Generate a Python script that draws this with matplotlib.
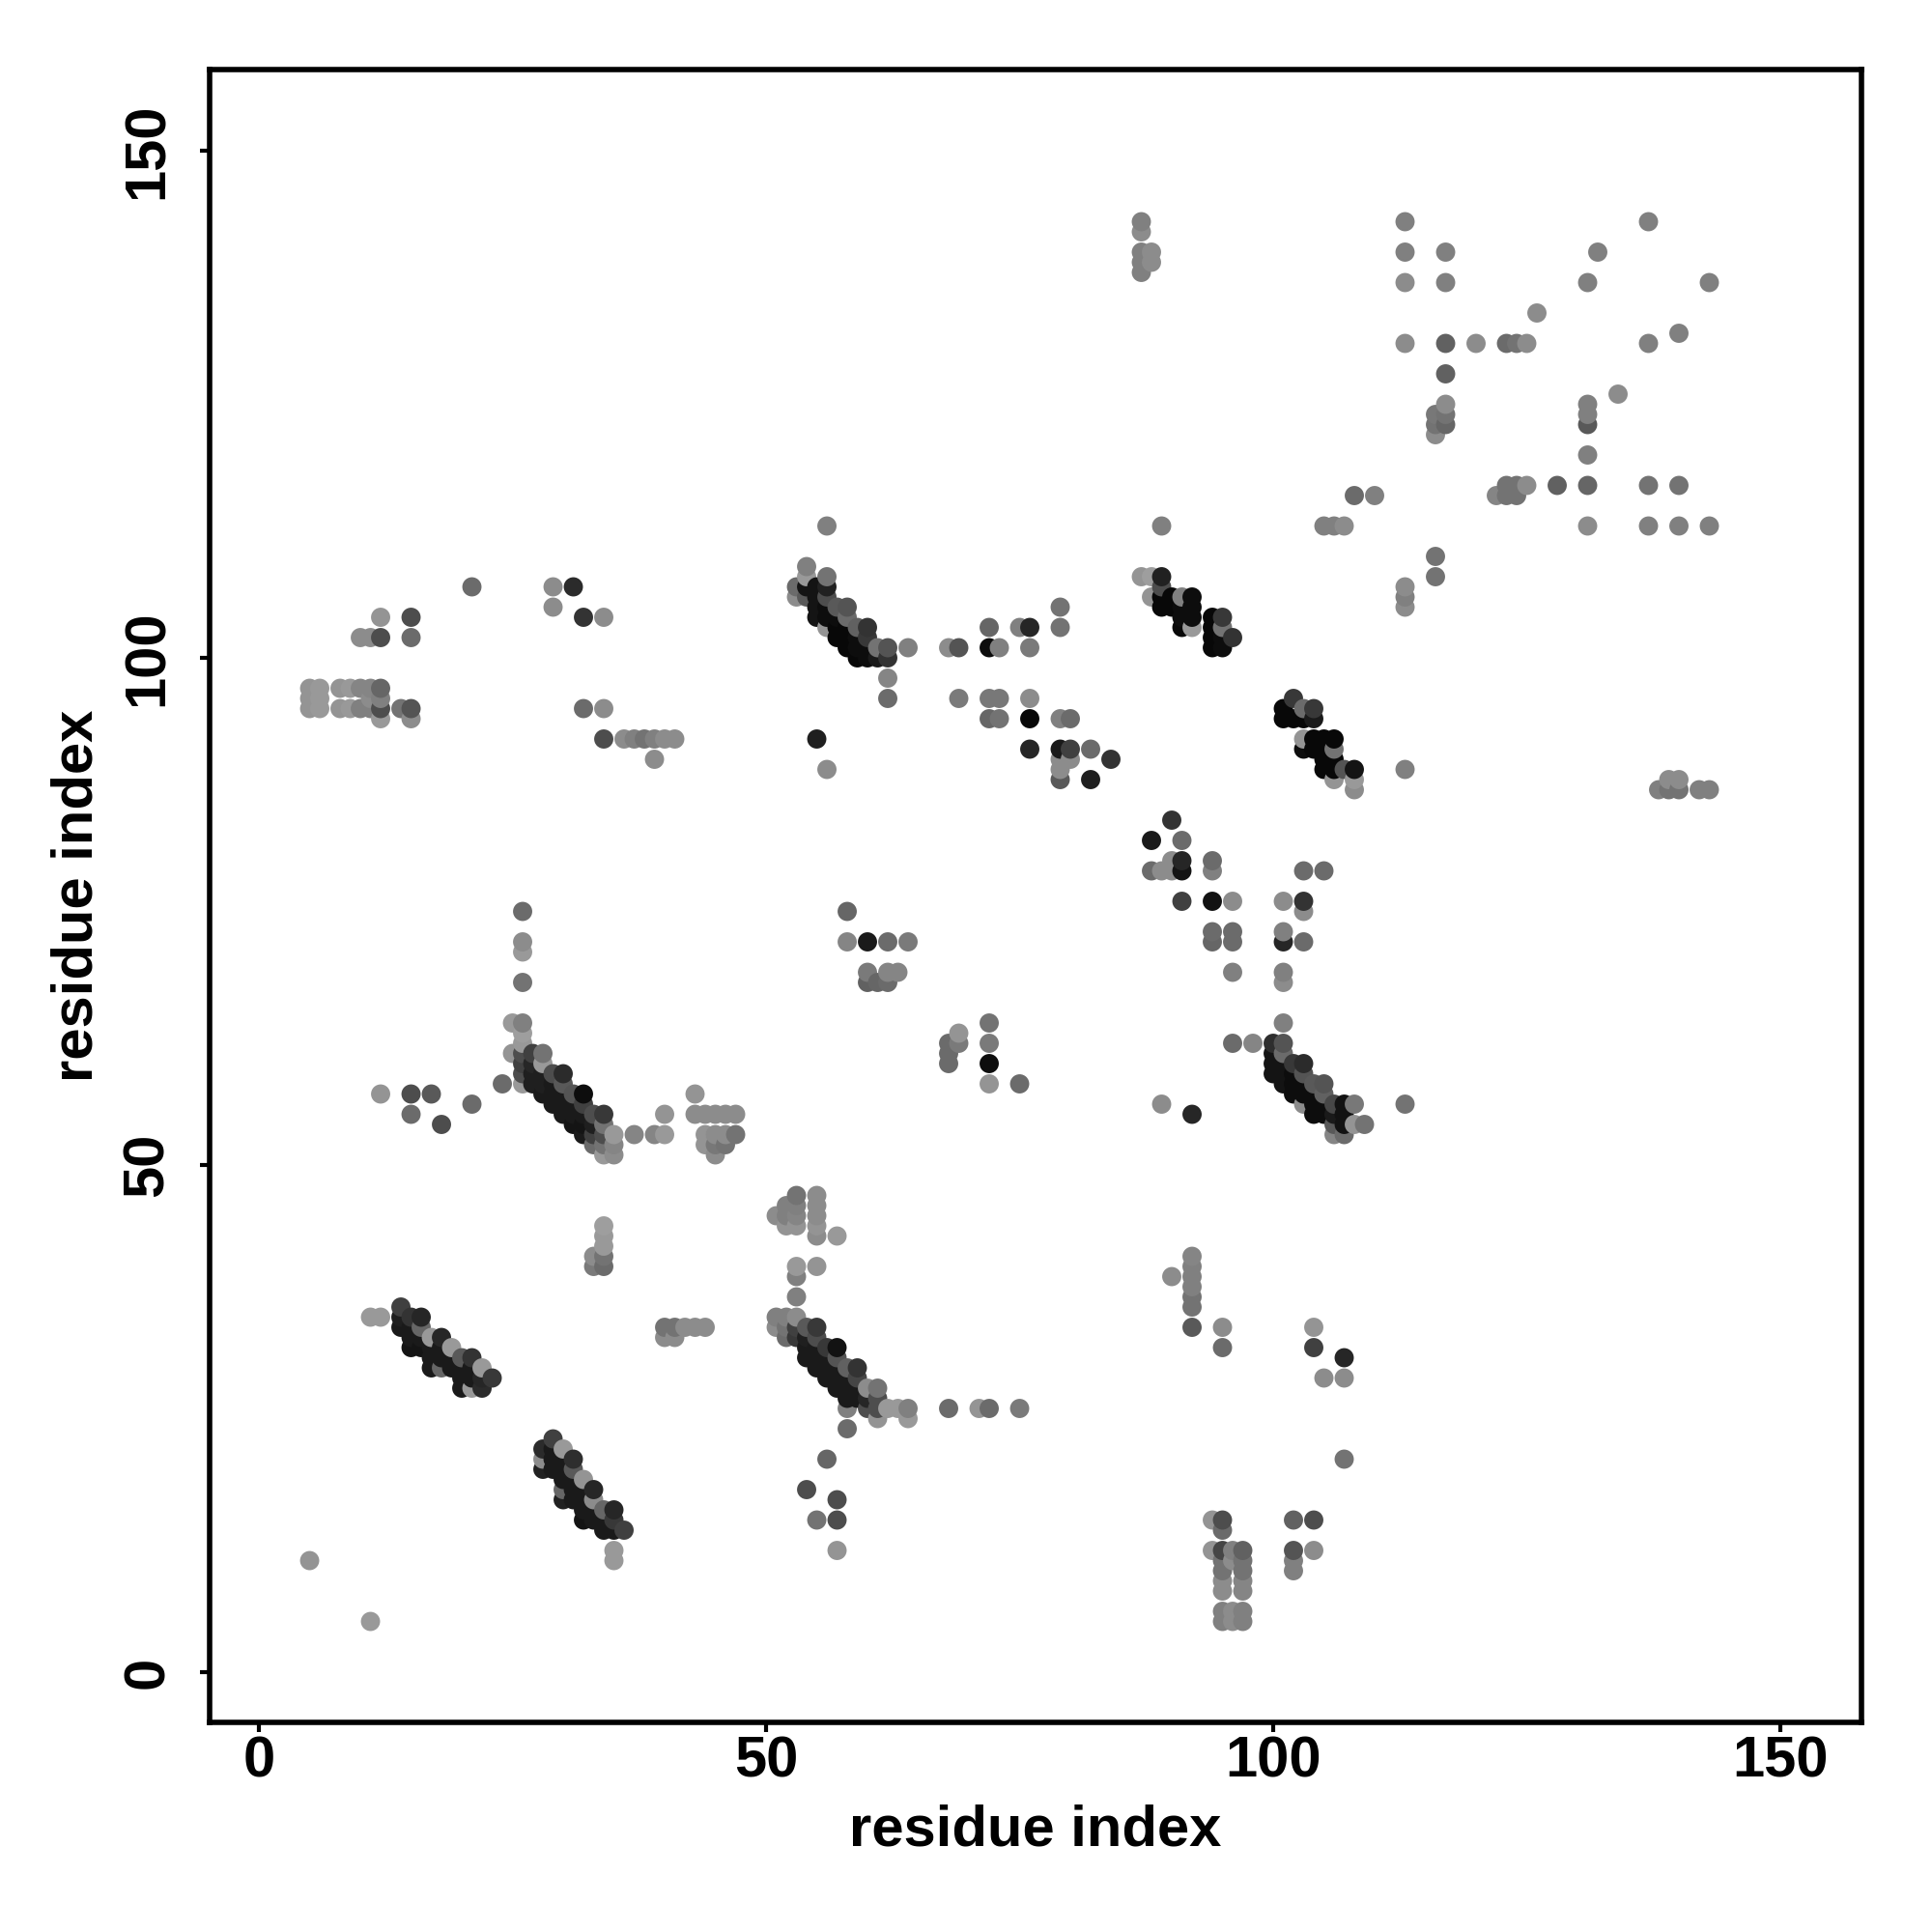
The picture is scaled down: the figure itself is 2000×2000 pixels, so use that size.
import numpy as np
import matplotlib
matplotlib.use("Agg")
import matplotlib.pyplot as plt

# contacts: residue i, residue j, grey level
helix_a_x = [14,14,14, 15,15,15,15, 16,16,16,16, 17,17,17,17, 18,18,18,18, 19,19,19, 20,20,20,20, 21,21,21,21, 22,22,22, 23]
helix_a_y = [36,35,34, 35,34,33,32, 35,34,33,32, 33,32,31,30, 33,32,31,30, 32,31,30, 31,30,29,28, 31,30,29,28, 30,29,28, 29]
helix_a_g = [.25,.12,.1, .2,.1,.1,.08, .15,.4,.1,.08, .6,.1,.1,.1, .15,.1,.1,.4, .6,.1,.1, .35,.1,.1,.1, .2,.1,.1,.6, .6,.15,.17, .22]

helix_b_x = [28,28,28, 29,29,29,29, 30,30,30,30,30,30, 31,31,31,31,31, 32,32,32,32,32, 33,33,33,33, 34,34,34, 35,35,35,35,35, 36]
helix_b_y = [22,21,20, 23,22,21,20, 22,21,20,19,18,17, 21,20,19,18,17, 19,18,17,16,15, 18,17,16,15, 16,15,14, 16,15,14,12,11, 14]
helix_b_g = [.17,.55,.13, .25,.1,.1,.1, .6,.1,.1,.1,.4,.13, .18,.35,.1,.1,.1, .58,.1,.1,.1,.08, .15,.55,.1,.1, .4,.1,.1, .15,.22,.1,.6,.6, .25]

helix_e_x = [25,25, 26,26,26,26,26,26,26,26,26,26,26, 27,27,27,27, 28,28,28,28,28, 29,29,29,29, 30,30,30,30,30, 31,31,31,31, 32,32,32,32,32, 33,33,33,33, 34,34,34,34,34, 35,35,35]
helix_e_y = [64,61, 75,72,71,68,64,63,62,61,60,59,58, 61,60,59,58, 61,60,59,58,57, 59,58,57,56, 59,58,57,56,55, 57,56,55,54, 57,56,55,54,53, 55,54,53,52, 55,54,53,52,51, 53,52,51]
helix_e_g = [.6,.58, .42,.55,.6,.45,.5,.62,.6,.3,.25,.3,.6, .25,.15,.12,.12, .45,.6,.12,.12,.1, .3,.1,.1,.1, .17,.35,.1,.1,.1, .33,.1,.1,.08, .05,.25,.1,.08,.1, .3,.12,.25,.42, .22,.45,.3,.45,.6, .6,.52,.55]

helix_g_x = [51,51, 52,52,52, 53,53,53, 54,54,54,54, 55,55,55,55,55, 56,56,56,56, 57,57,57,57,57, 58,58,58,58,58,58, 59,59,59,59, 60,60,60, 61,61,61,61, 62, 63, 64,64]
helix_g_y = [35,34, 35,34,33, 35,34,33, 34,33,32,31, 34,33,32,31,30, 32,31,30,29, 32,31,30,29,28, 30,29,28,27,26,24, 30,29,28,27, 28,27,26, 28,27,26,25, 26, 26, 26,25]
helix_g_g = [.5,.55, .5,.45,.42, .55,.25,.22, .35,.12,.1,.1, .22,.3,.1,.1,.1, .22,.1,.1,.1, .07,.33,.1,.1,.1, .38,.1,.1,.1,.5,.42, .2,.27,.1,.1, .55,.15,.3, .45,.3,.3,.58, .6, .6, .5,.6]

helix_h_x = [100,100,100,100, 101,101,101,101,101,101,101,101,101,101,101, 102,102,102,102, 103,103,103,103,103, 104,104,104,104, 105,105,105,105, 106,106,106,106, 107,107,107,107, 108,108, 109]
helix_h_y = [62,61,60,59, 76,73,72,69,68,64,62,61,60,59,58, 60,59,58,57, 60,59,58,57,56, 58,57,56,55, 58,57,56,55, 56,55,54,53, 56,55,54,53, 56,54, 54]
helix_h_g = [.18,.08,.08,.08, .55,.5,.15,.5,.55,.5,.33,.42,.08,.08,.08, .22,.05,.05,.05, .17,.33,.05,.05,.55, .35,.05,.05,.05, .33,.38,.05,.05, .28,.1,.35,.52, .07,.07,.07,.42, .47,.58, .45]

helix_j_x = [53,53, 54,54,54,54, 55,55,55,55, 56,56,56,56,56,56, 57,57,57,57, 58,58,58,58,58, 59,59,59,59, 60,60,60,60, 61,61, 62,62,62,62]
helix_j_y = [107,106, 109,108,107,106, 107,106,105,104, 108,107,106,105,104,103, 105,104,103,102, 105,104,103,102,101, 103,102,101,100, 103,102,101,100, 101,100, 101,100,98,96]
helix_j_g = [.42,.55, .5,.6,.08,.35, .08,.08,.08,.08, .45,.13,.3,.05,.05,.58, .35,.05,.03,.03, .33,.42,.03,.03,.03, .38,.05,.05,.03, .2,.22,.05,.05, .45,.1, .33,.2,.52,.42]

helix_k_x = [87, 88,88, 89,89,89,89, 90,90, 91,91,91,91, 92,92,92,92, 94,94,94,94, 95,95,95,95, 96]
helix_k_y = [108, 108,106, 108,107,106,105, 106,105, 106,105,104,103, 106,105,104,103, 104,103,102,101, 104,103,102,101, 102]
helix_k_g = [.58, .62,.58, .13,.3,.03,.03, .03,.03, .5,.05,.05,.03, .05,.05,.05,.6, .03,.03,.03,.03, .22,.45,.05,.05, .2]

helix_l_x = [101,101, 102,102, 103,103,103,103, 104,104,104,104, 105,105,105,105, 106,106,106,106,106, 107, 108,108,108]
helix_l_y = [95,94, 96,94, 95,94,92,91, 95,94,92,91, 92,91,90,89, 92,91,90,89,88, 89, 89,88,87]
helix_l_g = [.03,.03, .22,.03, .42,.03,.58,.05, .22,.1,.03,.03, .03,.03,.03,.03, .03,.45,.03,.03,.58, .33, .08,.6,.55]

# scattered contacts, low residue numbers
low_x = [5, 11, 11,12, 33,33, 34,34,34,34,34, 40,40,41,41,42,43,44, 12,15,17,15,18,21,24, 37,39,40,40, 43,43,44,45,46,47, 44,45,46,47,44,45,46,45]
low_y = [11, 5, 35,35, 41,40, 44,43,42,41,40, 34,33,34,33,34,34,34, 57,57,57,55,54,56,58, 53,53,53,55, 57,55,55,55,55,55, 53,53,53,53,52,52,52,51]
low_g = [.58, .6, .6,.6, .55,.48, .62,.6,.6,.45,.42, .45,.55,.45,.55,.55,.55,.55, .58,.3,.35,.42,.3,.42,.42, .52,.52,.6,.58, .58,.55,.55,.55,.55,.55, .58,.55,.55,.45,.58,.47,.45,.55]

# block above helix g and points below it
mid_x = [51, 52,52,52, 53,53,53,53, 55,55,55,55,55, 57, 53,53,53, 55, 56,54,57,55,57,57, 68,71,72,75]
mid_y = [45, 46,45,44, 47,46,45,44, 47,46,45,44,43, 43, 40,39,37, 40, 21,18,17,15,15,12, 26,26,26,26]
mid_g = [.55, .5,.5,.58, .45,.5,.52,.58, .55,.55,.55,.58,.55, .6, .6,.5,.5, .58, .4,.3,.3,.45,.3,.58, .42,.58,.42,.48]

# lower right block
block_x = [94,95,95,94,95,96,97, 95,95,95,95, 96, 97,97,97,97, 95,96,97,95,96,97, 102,102,102,102, 104,104,107]
block_y = [15,15,14,12,12,12,12, 11,10,9,8, 11, 11,10,9,8, 6,6,6,5,5,5, 15,12,11,10, 15,12,21]
block_g = [.58,.3,.42,.58,.27,.5,.38, .45,.45,.55,.55, .55, .45,.45,.52,.52, .5,.55,.5,.5,.55,.5, .38,.33,.5,.5, .3,.55,.45]

strand_x = [90, 92,92,92,92,92,92,92, 95,95, 104,104,105,107,107]
strand_y = [39, 41,40,39,38,37,36,34, 34,32, 34,32,29,29,31]
strand_g = [.55, .52,.5,.5,.5,.45,.45,.35, .55,.42, .58,.25,.55,.55,.15]

# middle of the map
centre_x = [58,58,60,62,64,60,60,61,62,62,63, 68,68,68,69,69,72,72,72,72,75, 89,92,96,98,103,103,103,103,105, 113]
centre_y = [75,72,72,72,72,69,68,68,68,69,69, 62,61,60,63,62,64,62,60,58,58, 56,55,62,62,79,76,75,72,79, 56]
centre_g = [.4,.52,.1,.42,.48,.48,.38,.4,.42,.52,.52, .42,.42,.42,.58,.48,.45,.48,.05,.58,.42, .55,.15,.42,.52,.42,.2,.55,.42,.42, .45]

loop_x = [90,88,91,91,91,88,89,90,90,94,94,91,94,96,94,94,96,96,96]
loop_y = [84,82,82,80,79,79,79,80,79,80,79,76,76,76,73,72,73,72,69]
loop_g = [.2,.1,.42,.15,.08,.42,.55,.55,.55,.42,.5,.25,.07,.55,.42,.4,.42,.42,.5]

# row 88-113, between helices j and k
band_x = [56,55,56, 64,68,69,72,73,76,72,75,76, 69,72,73,76,72,73,76,76, 79,79,79,80,79,80,79,80,79,79,82,82,84, 89]
band_y = [113,92,89, 101,101,101,101,101,101,103,103,103, 96,96,96,96,94,94,94,91, 105,103,94,94,91,91,90,90,89,88,91,88,90, 113]
band_g = [.5,.12,.55, .5,.55,.33,.05,.5,.48,.4,.5,.15, .48,.47,.47,.55,.4,.45,.03,.15, .45,.45,.5,.42,.1,.25,.55,.55,.55,.35,.42,.12,.2, .5]

# upper left
left_x = [5,5,5,6,6,6, 8,8,9,9,10,10, 11,11,11, 12,12,12,12, 14,15,15, 12,15,10,11,12,15, 21,29,31,29,32,34,32,34,34, 36,37,38,39,40,41,39]
left_y = [97,96,95,97,96,95, 97,95,97,95,97,95, 97,96,95, 97,96,95,94, 95,95,94, 104,104,102,102,102,102, 107,107,107,105,104,104,95,95,92, 92,92,92,92,92,92,90]
left_g = [.58,.58,.58,.6,.6,.6, .58,.58,.6,.6,.52,.5, .52,.55,.5, .4,.5,.3,.6, .45,.33,.55, .58,.3,.55,.55,.3,.42, .42,.55,.17,.55,.2,.55,.42,.55,.3, .55,.5,.45,.5,.55,.55,.55]

# upper right
top_x = [87,87,87,87,87,88,88, 113,113,113,113,117,117,117,120,123,124,125,117, 126,132,131,137,143,137,140,134]
top_y = [143,142,140,139,138,140,139, 143,140,137,131,140,137,131,131,131,131,131,128, 134,140,137,143,137,131,132,126]
top_g = [.5,.55,.5,.5,.5,.55,.55, .5,.5,.55,.55,.5,.5,.38,.55,.42,.45,.55,.38, .55,.5,.5,.5,.5,.5,.5,.55]

far_x = [117,117,117,116,116,116, 122,123,123,124,124,125,128, 131,131,131,131,131,131, 137,140,137,140,143, 105,106,107,108,110, 113,113,113,116,116, 113, 138,139,139,140,140,142,143]
far_y = [125,124,123,124,123,122, 116,117,116,117,116,117,117, 125,124,123,120,117,113, 117,117,113,113,113, 113,113,113,116,116, 107,106,105,110,108, 89, 87,87,88,88,87,87,87]
far_g = [.55,.45,.4,.47,.45,.55, .52,.45,.45,.45,.45,.55,.38, .5,.5,.35,.5,.4,.55, .45,.45,.5,.5,.5, .5,.5,.55,.42,.5, .55,.5,.55,.45,.45, .5, .5,.45,.55,.55,.45,.5,.5]

tick_values = [0, 50, 100, 150]

res_i = np.array(helix_a_x + helix_b_x + helix_e_x + helix_g_x + helix_h_x + helix_j_x + helix_k_x + helix_l_x
                 + low_x + mid_x + block_x + strand_x + centre_x + loop_x + band_x + left_x + top_x + far_x)
res_j = np.array(helix_a_y + helix_b_y + helix_e_y + helix_g_y + helix_h_y + helix_j_y + helix_k_y + helix_l_y
                 + low_y + mid_y + block_y + strand_y + centre_y + loop_y + band_y + left_y + top_y + far_y)
grey = np.array(helix_a_g + helix_b_g + helix_e_g + helix_g_g + helix_h_g + helix_j_g + helix_k_g + helix_l_g
                + low_g + mid_g + block_g + strand_g + centre_g + loop_g + band_g + left_g + top_g + far_g)

# later residues sit on top, as in the original
order = np.lexsort((res_j, res_i))

plt.rcParams["font.family"] = ["Liberation Sans", "DejaVu Sans"]
plt.rcParams["font.weight"] = "bold"

fig = plt.figure(figsize=(20, 20), dpi=100)
ax = fig.add_axes([217 / 2000, 1 - 1783 / 2000, 1710 / 2000, 1711 / 2000])
ax.scatter(res_i[order], res_j[order], s=205, c=grey[order].astype(str).tolist(), linewidths=0)

ax.set_xlim(-4.86, 158)
ax.set_ylim(-4.95, 158)
ax.set_xticks(tick_values)
ax.set_yticks(tick_values)
ax.tick_params(length=7, width=3, labelsize=43)
ax.tick_params(axis="x", pad=3)
ax.tick_params(axis="y", pad=19)
for label in ax.get_yticklabels():
    label.set_rotation(90)
    label.set_verticalalignment("center")
ax.set_xlabel("residue index", fontsize=43, fontweight="bold", labelpad=11)
ax.set_ylabel("residue index", fontsize=43, fontweight="bold", labelpad=13)
for spine in ax.spines.values():
    spine.set_linewidth(4)

plt.savefig("out.png", dpi=100)
plt.close()
